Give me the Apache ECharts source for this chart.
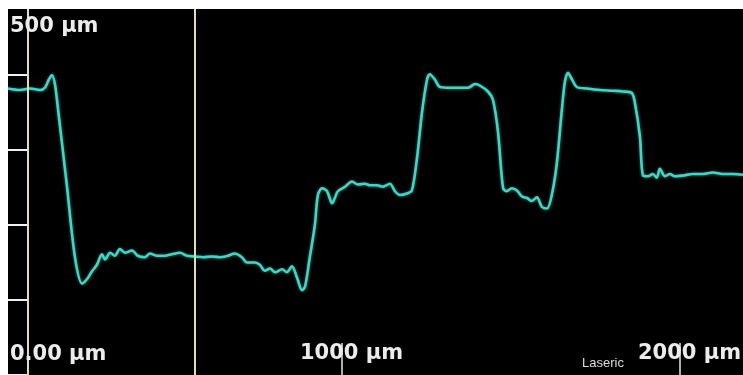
<!DOCTYPE html>
<html>
<head>
<meta charset="utf-8">
<script src="https://cdn.jsdelivr.net/npm/echarts@6/dist/echarts.min.js"></script>
<style>html,body{margin:0;padding:0;background:#fff;}#c{width:743px;height:375px;}</style>
</head>
<body>
<div id="c"></div>
<script>
// Profile position (µm) and height (µm)
var positions = [12,47,77,107,121,133,142,151,160,186,210,231,246,260,275,290,299,314,328,343,358,379,396,417,432,453,476,497,521,541,565,589,615,639,663,683,704,719,743,757,772,787,802,823,837,852,867,882,891,905,920,929,941,956,971,979,988,1009,1030,1047,1068,1083,1104,1121,1142,1157,1172,1192,1207,1222,1237,1252,1260,1275,1290,1320,1349,1373,1394,1408,1432,1447,1462,1477,1488,1503,1518,1533,1548,1562,1577,1592,1607,1622,1636,1651,1660,1669,1681,1695,1725,1764,1802,1832,1858,1867,1882,1891,1906,1920,1932,1941,1956,1971,1985,2009,2039,2068,2098,2127,2157,2187];
var heights = [382,380,382,380,383,394,400,387,354,253,157,122,128,138,147,161,154,163,159,168,163,166,159,157,162,159,159,161,163,159,158,157,158,157,159,162,157,150,150,147,139,142,137,141,137,145,130,113,118,157,200,240,249,245,229,236,245,251,258,254,255,253,253,251,255,245,240,242,246,288,350,394,401,394,384,383,383,383,388,386,378,367,324,249,245,249,246,238,236,232,237,224,222,242,282,354,391,403,394,384,382,380,379,378,376,363,318,266,265,268,263,275,265,268,265,266,268,268,270,268,268,267];
var cursors = [71, 565];
var xTicks = [1000, 2000];
var xTickLabels = ["0.00 µm", "1000 µm", "2000 µm"];
var yTopLabel = "500 µm";
var brand = "Laseric";

var chart = echarts.init(document.getElementById('c'));
var lblFont = {fontFamily: 'DejaVu Sans', fontSize: 21, fontWeight: 'bold', fill: '#ececec'};
chart.setOption({
  backgroundColor: '#000000',
  animation: false,
  grid: {left: 4, right: 0, top: -1, bottom: -4},
  xAxis: {
    type: 'value', min: 0, max: 2187, interval: 1000,
    axisLine: {show: false},
    axisTick: {show: true, inside: true, length: 32, customValues: xTicks, lineStyle: {color: '#e8e8e8', width: 1.5}},
    axisLabel: {show: false},
    splitLine: {show: false}
  },
  yAxis: {
    type: 'value', min: 0, max: 500, interval: 100, offset: -4,
    axisLine: {show: false},
    axisTick: {show: true, inside: true, length: 20, lineStyle: {color: '#f2f2f2', width: 2}},
    axisLabel: {show: false},
    splitLine: {show: false}
  },
  series: [{
    type: 'line',
    data: positions.map(function (x, i) { return [x, heights[i]]; }),
    showSymbol: false,
    smooth: 0.3,
    z: 3,
    lineStyle: {color: '#3fd6c6', width: 2.6, shadowColor: 'rgba(60,220,200,0.55)', shadowBlur: 3},
    markLine: {
      symbol: 'none', silent: true, label: {show: false},
      lineStyle: {color: '#e2ddb6', width: 2, type: 'solid'},
      data: cursors.map(function (c) { return {xAxis: c}; })
    }
  }],
  graphic: [
    {type: 'rect', z: 100, shape: {x: 0, y: 0, width: 743, height: 9}, style: {fill: '#ffffff'}},
    {type: 'rect', z: 100, shape: {x: 0, y: 0, width: 8, height: 375}, style: {fill: '#ffffff'}},
    {type: 'text', z: 110, x: 10, y: 27, style: Object.assign({text: yTopLabel, verticalAlign: 'middle'}, lblFont)},
    {type: 'text', z: 110, x: 10, y: 355, style: Object.assign({text: xTickLabels[0], verticalAlign: 'middle'}, lblFont)},
    {type: 'text', z: 110, x: 300, y: 354, style: Object.assign({text: xTickLabels[1], verticalAlign: 'middle'}, lblFont)},
    {type: 'text', z: 110, x: 638, y: 354, style: Object.assign({text: xTickLabels[2], verticalAlign: 'middle'}, lblFont)},
    {type: 'text', z: 110, x: 582, y: 363, style: {text: brand, verticalAlign: 'middle', fontFamily: 'Liberation Sans', fontSize: 13, fill: '#dddddd'}}
  ]
});
</script>
</body>
</html>
